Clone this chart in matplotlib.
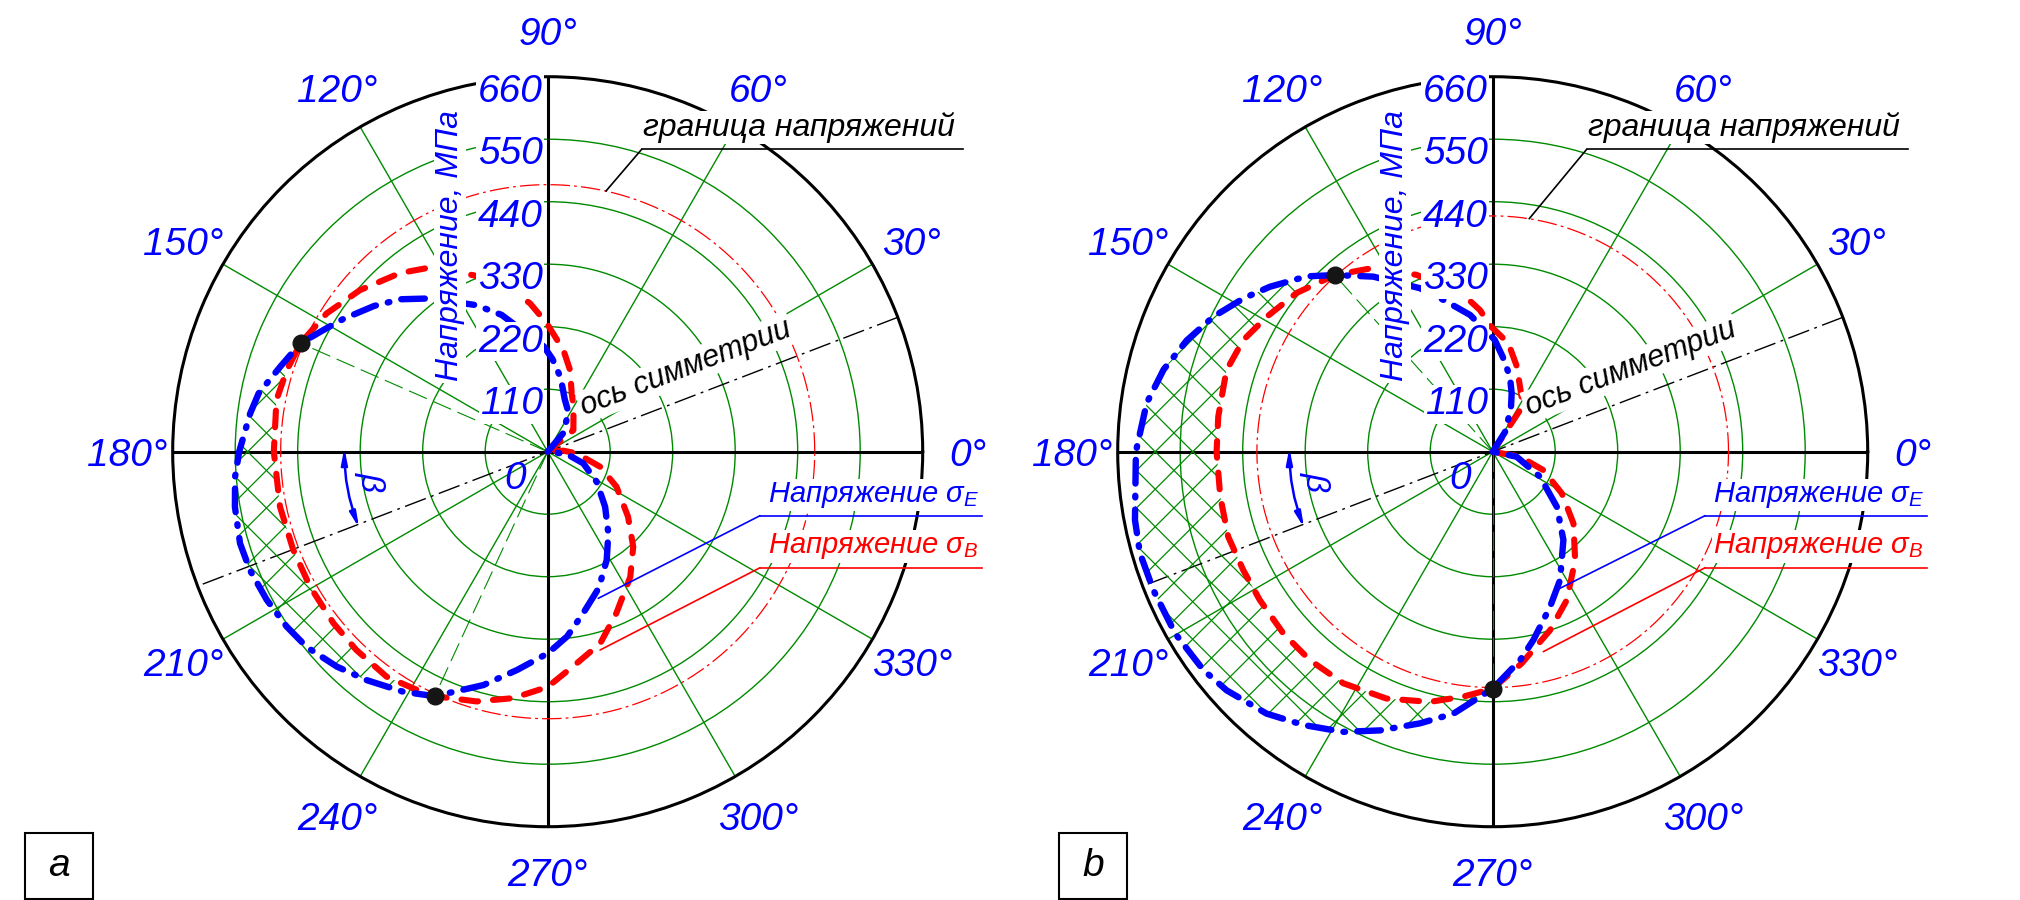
import numpy as np
import matplotlib
matplotlib.use('Agg')
import matplotlib.pyplot as plt
from matplotlib.patches import Polygon, Rectangle
from matplotlib.collections import LineCollection
from matplotlib.transforms import offset_copy

plt.rcParams['font.family'] = ['Liberation Sans Narrow', 'Liberation Sans', 'DejaVu Sans']
plt.rcParams['font.style'] = 'italic'
plt.rcParams['lines.scale_dashes'] = False
plt.rcParams['mathtext.fontset'] = 'custom'
plt.rcParams['mathtext.it'] = 'Liberation Sans:italic'
plt.rcParams['mathtext.rm'] = 'Liberation Sans:italic'

# --- data: angle in degrees, stress in MPa ---
# panel a
blue_a_t = [40, 50, 62, 72, 80, 87, 92, 108.6, 116, 127.5, 134, 140, 147, 151.5, 156.3, 162.4,
            168.6, 172.7, 180, 184.6, 190, 196.6, 201.7, 207.8, 213.8, 219, 225.5, 231.6, 239,
            245.2, 254.6, 262, 270, 276, 282.4, 290.6, 298.6, 306.6, 316.2, 328.5, 341.9, 353, 360]
blue_a_r = [0, 42, 78, 97, 132, 163, 185, 254, 287, 340, 373, 399, 429, 449, 475, 494,
            519, 528, 543, 552, 559, 565, 564, 559, 553, 546, 530, 513, 493,
            474, 426, 388, 355, 327, 291, 256, 217, 179, 140, 101, 66, 34, 0]
red_a_t = [20, 40, 60, 67.6, 74.7, 81.2, 90.4, 96.8, 102, 112.8, 123.4, 129.6, 139.3, 148, 156.3,
           162.6, 169.2, 180, 191.6, 201, 209.6, 218.7, 226, 234.4, 240.4, 245.2, 254.1, 262,
           270, 277.8, 285.3, 293, 303.4, 312, 321, 333, 344, 356.7, 363.6, 370]
red_a_r = [0, 59, 91, 111, 149, 181, 226, 263, 288, 337, 387, 408, 436, 459, 475,
           481, 486, 482, 481, 480, 481, 483, 485, 487, 479, 474, 457, 438,
           414, 376, 350, 309, 264, 225, 182, 136, 96, 51, 28, 0]
dots_a_t = [156.3, 245.2]
dots_a_r = [475, 474]
limit_a = 470

# panel b
blue_b_t = [45, 58, 67, 72, 77, 81, 84, 89, 99.4, 108, 114, 124.3, 131.8, 136.7, 143.5, 148.4,
            154.2, 160, 166, 172, 180, 190.8, 196, 202.2, 209.8, 217, 221.9, 229.2, 235.3,
            241.9, 248, 255, 261.5, 270, 277.5, 282.2, 290.3, 297.7, 308.7, 319.3, 332.2, 348.2, 360]
blue_b_r = [0, 41, 82, 108, 135, 152, 168, 197, 244, 281, 315, 373, 417, 450, 488, 515,
            546, 573, 597, 615, 628, 641, 646, 645, 644, 638, 629, 609, 585,
            559, 529, 495, 466, 417, 370, 339, 291, 255, 199, 149, 94, 43, 0]
red_b_t = [35, 56.7, 62.2, 74.2, 81.8, 91.2, 95.1, 100.6, 113.3, 123.8, 131.8, 141, 149.1, 155.9,
           163, 172.7, 180, 189.4, 197.8, 205.4, 212.5, 221, 228.8, 237.2, 246.7, 255.9, 263.2,
           270, 277.8, 287.8, 296.5, 307.2, 318.4, 328.9, 340, 349.6, 360]
red_b_r = [0, 88, 109, 156, 193, 222, 250, 281, 339, 388, 417, 444, 463, 481,
           490, 487, 486, 486, 489, 486, 486, 488, 488, 485, 473, 454, 434,
           417, 376, 330, 292, 240, 190, 142, 95, 49, 0]
dots_b_t = [131.8, 270]
dots_b_r = [417, 417]
limit_b = 415

rings = [110, 220, 330, 440, 550]
ring_labels = ['110', '220', '330', '440', '550', '660']
ring_label_r = [110, 220, 330, 440, 550, 660]
angle_ticks = list(range(0, 360, 30))
angle_labels = [f'{a}°' for a in angle_ticks]
sym_axis = 21

# leader ends on the curves (deg, MPa)
lead_a = {'blue': (289, 273), 'red': (284.8, 361), 'limit': (77.4, 470)}
lead_b = {'blue': (296.2, 268), 'red': (284.2, 363), 'limit': (81.1, 415)}

green = '#008a00'
blue = '#0000ff'
red = '#ff0000'
white_box = dict(facecolor='white', edgecolor='none', pad=1)

fig = plt.figure(figsize=(20.2, 9), dpi=100)


def hatch(ax, bt, br, rt, rr, dt, dr):
    bt, br, rt, rr = map(np.asarray, (bt, br, rt, rr))
    t1, t2 = dt
    mb = (bt > t1) & (bt < t2)
    mr = (rt > t1) & (rt < t2)
    th = np.concatenate([[t1], bt[mb], [t2], rt[mr][::-1]])
    rr_ = np.concatenate([[dr[0]], br[mb], [dr[1]], rr[mr][::-1]])
    poly = Polygon(np.column_stack([np.deg2rad(th), rr_]), closed=True,
                   facecolor='none', edgecolor='none', transform=ax.transData)
    ax.add_patch(poly)
    step = 0.05
    segs = [[(0, c), (1, 1 + c)] for c in np.arange(-1, 1, step)]
    segs += [[(0, c), (1, c - 1)] for c in np.arange(0, 2, step)]
    lc = LineCollection(segs, colors=green, linewidths=0.9, transform=ax.transAxes, zorder=2.6)
    lc.set_clip_path(poly)
    ax.add_collection(lc, autolim=False)


def panel(left, bt, br, rt, rr, dt, dr, limit_r, lead, letter, box_x):
    ax = fig.add_axes([left, 0.08144, 0.37129, 0.83333], projection='polar')
    ax.set_ylim(0, 660)
    ax.set_thetagrids(angle_ticks, labels=[''] * len(angle_ticks))
    ax.set_rgrids(rings, labels=[''] * len(rings))
    ax.grid(True, color=green, lw=1.0)
    ax.tick_params(length=0, pad=0)
    ax.spines['polar'].set_color('black')
    ax.spines['polar'].set_linewidth(2.2)

    # main axes and symmetry axis
    ax.plot([0, np.pi], [660, 660], color='black', lw=2.2, zorder=2.2)
    ax.plot([np.pi / 2, 3 * np.pi / 2], [660, 660], color='black', lw=2.2, zorder=2.2)
    ax.plot(np.deg2rad([sym_axis, sym_axis + 180]), [660, 660], color='black', lw=1.0,
            dashes=(16, 4, 2, 4), zorder=2.3)

    # stress limit circle
    tt = np.linspace(0, 2 * np.pi, 400)
    ax.plot(tt, np.full_like(tt, limit_r), color=red, lw=0.9, dashes=(14, 3, 2, 3), zorder=2.4)

    hatch(ax, bt, br, rt, rr, dt, dr)

    # curves
    ax.plot(np.deg2rad(rt), rr, color=red, lw=4.4, dashes=(12.0, 10.8),
            dash_capstyle='round', zorder=3)
    ax.plot(np.deg2rad(bt), br, color=blue, lw=4.6, dashes=(17.0, 8.8, 1.2, 8.8),
            dash_capstyle='round', zorder=3.2)

    # radius lines to intersection points
    for t, r in zip(dt, dr):
        ax.plot([0, np.deg2rad(t)], [0, r], color=green, lw=0.8, dashes=(14, 5), zorder=2.5)
    ax.plot(np.deg2rad(dt), dr, 'o', color='#151515', ms=12, zorder=5)

    # angle labels
    for a, lab in zip(angle_ticks, angle_labels):
        ax.text(np.deg2rad(a), 740, lab, color=blue, fontsize=28, ha='center',
                va='center_baseline', zorder=10)

    # radial labels
    trans = offset_copy(ax.transData, fig=fig, x=-5, y=-11, units='dots')
    for r, lab in zip(ring_label_r, ring_labels):
        ax.text(np.pi / 2, r, lab, transform=trans, color=blue, fontsize=28, ha='right',
                va='center_baseline', bbox=white_box, zorder=10)
    trans0 = offset_copy(ax.transData, fig=fig, x=-22, y=-23, units='dots')
    ax.text(0, 0, '0', transform=trans0, color=blue, fontsize=28, ha='right',
            va='center_baseline', zorder=10)
    ax.text(0.3697, 0.7743, 'Напряжение, МПа', transform=ax.transAxes, rotation=90,
            color=blue, fontsize=23, ha='center', va='center', bbox=white_box, zorder=10)

    # beta
    ax.annotate('', xy=(np.deg2rad(202), 358), xytext=(np.deg2rad(179), 358),
                arrowprops=dict(arrowstyle='<|-|>,head_length=0.9,head_width=0.18',
                                color=blue, lw=1.8, shrinkA=0, shrinkB=0,
                                connectionstyle='arc3,rad=0.09'), zorder=6)
    ax.text(np.deg2rad(189.7), 317, 'β', rotation=-90, color=blue, fontsize=24,
            ha='center', va='center', zorder=10)

    # symmetry axis caption
    ax.text(np.deg2rad(31.2), 284.6, 'ось симметрии', rotation=sym_axis,
            rotation_mode='anchor', ha='center', va='center', fontsize=22,
            color='black', bbox=white_box, zorder=9)

    # stress limit caption
    ax.text(0.627, 0.9209, 'граница напряжений', transform=ax.transAxes, fontsize=23,
            color='black', ha='left', va='baseline', bbox=white_box, zorder=9)
    ax.plot([0.6253, 1.0537], [0.9032, 0.9032], color='black', lw=1.2,
            transform=ax.transAxes, clip_on=False, zorder=9.5)
    ax.annotate('', xy=(np.deg2rad(lead['limit'][0]), lead['limit'][1]),
                xytext=(0.6253, 0.9032), textcoords='axes fraction',
                arrowprops=dict(arrowstyle='-', color='black', lw=1.2, shrinkA=0, shrinkB=0),
                zorder=9.5)

    # series captions
    for key, col, ty, ly, lab in [('blue', blue, 0.4329, 0.4147, 'Напряжение σ$_{E}$'),
                                  ('red', red, 0.3645, 0.3453, 'Напряжение σ$_{B}$')]:
        ax.text(0.7937, ty, lab, transform=ax.transAxes, fontsize=21, color=col,
                ha='left', va='baseline', bbox=white_box, zorder=9)
        ax.plot([0.7831, 1.0791], [ly, ly], color=col, lw=1.2, transform=ax.transAxes,
                clip_on=False, zorder=9.5)
        ax.annotate('', xy=(np.deg2rad(lead[key][0]), lead[key][1]),
                    xytext=(0.7831, ly), textcoords='axes fraction',
                    arrowprops=dict(arrowstyle='-', color=col, lw=1.2, shrinkA=0, shrinkB=0),
                    zorder=9.5)

    # panel letter box
    fig.add_artist(Rectangle((box_x / 2020, 1 / 900), 68 / 2020, 66 / 900,
                             transform=fig.transFigure, fill=False, ec='black', lw=1.5))
    fig.text((box_x + 34) / 2020, 34 / 900, letter, fontsize=28, ha='center',
             va='center', color='black')
    return ax


panel(0.08549, blue_a_t, blue_a_r, red_a_t, red_a_r, dots_a_t, dots_a_r, limit_a, lead_a, 'a', 25)
panel(0.55332, blue_b_t, blue_b_r, red_b_t, red_b_r, dots_b_t, dots_b_r, limit_b, lead_b, 'b', 1059)

fig.savefig('out.png', dpi=100, facecolor='white')
